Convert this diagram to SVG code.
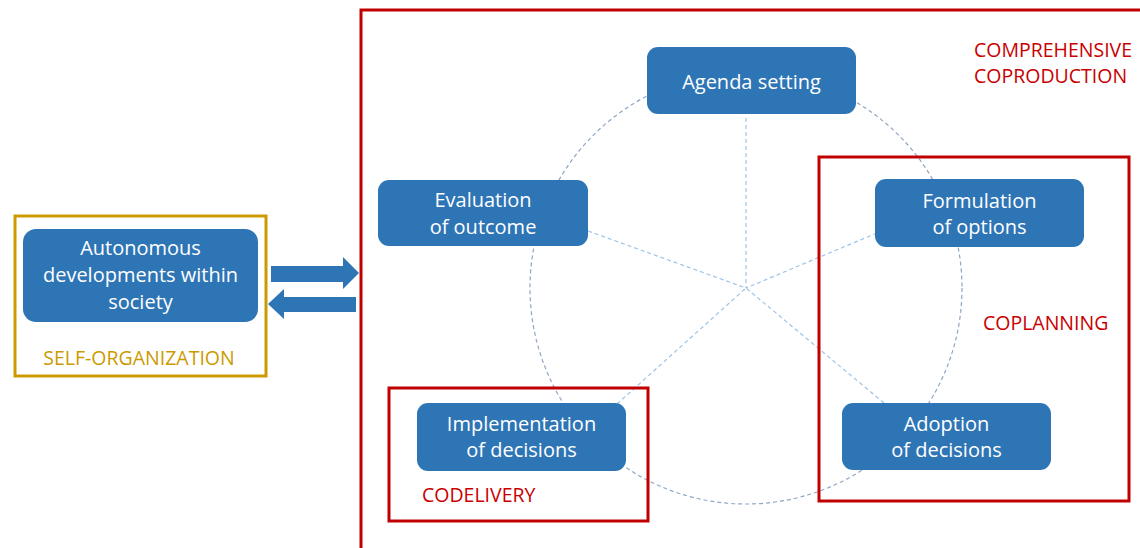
<svg xmlns="http://www.w3.org/2000/svg" width="1140" height="548" viewBox="0 0 1140 548">
  <style>
    .node { fill: #2E75B6; }
    .ntext { font-family: "Open Sans", "Liberation Sans", sans-serif; font-size: 20px; fill: #FFFFFF; text-anchor: middle; }
    .redbox { fill: none; stroke: #C00000; stroke-width: 3; }
    .redlabel { font-family: "Open Sans", "Liberation Sans", sans-serif; font-size: 19.5px; fill: #C80000; }
    .goldbox { fill: none; stroke: #CC9A00; stroke-width: 3; }
    .goldlabel { font-family: "Open Sans", "Liberation Sans", sans-serif; font-size: 19.5px; fill: #CC9A00; text-anchor: middle; }
    .spoke { fill: none; stroke: #9DC3E6; stroke-width: 1.2; stroke-dasharray: 4 3; }
    .ring { fill: none; stroke: #8EA6C4; stroke-width: 1.2; stroke-dasharray: 4 3; }
    .bigarrow { fill: #2E75B6; }
  </style>

  <rect width="1140" height="548" fill="#FFFFFF"/>

  <g id="connectors">
    <circle class="ring" cx="746" cy="288" r="216"/>
    <line class="spoke" x1="746" y1="118" x2="746" y2="288"/>
    <line class="spoke" x1="588" y1="231" x2="746" y2="288"/>
    <line class="spoke" x1="877" y1="233" x2="746" y2="288"/>
    <line class="spoke" x1="884" y1="403" x2="746" y2="288"/>
    <line class="spoke" x1="617" y1="404" x2="746" y2="288"/>
    <polygon class="bigarrow" points="271,266 343,266 343,257 359,273 343,289 343,282 271,282"/>
    <polygon class="bigarrow" points="356,297 284,297 284,289 268,304 284,319 284,312 356,312"/>
  </g>

  <g id="comprehensive-coproduction">
    <rect class="redbox" x="361" y="10" width="820" height="600"/>
    <text class="redlabel" x="974" y="57">COMPREHENSIVE</text>
    <text class="redlabel" x="974" y="83">COPRODUCTION</text>
  </g>

  <g id="self-organization">
    <rect class="goldbox" x="15" y="216" width="251" height="160"/>
    <text class="goldlabel" x="139" y="365">SELF-ORGANIZATION</text>
  </g>

  <g id="autonomous">
    <rect class="node" x="23" y="229" width="235" height="93" rx="13"/>
    <text class="ntext" x="140.5" y="255">Autonomous</text>
    <text class="ntext" x="140.5" y="282">developments within</text>
    <text class="ntext" x="140.5" y="309">society</text>
  </g>

  <g id="agenda-setting">
    <rect class="node" x="647" y="47" width="209" height="67" rx="11"/>
    <text class="ntext" x="751.5" y="89">Agenda setting</text>
  </g>

  <g id="evaluation">
    <rect class="node" x="378" y="180" width="210" height="66" rx="11"/>
    <text class="ntext" x="483" y="207">Evaluation</text>
    <text class="ntext" x="483" y="234">of outcome</text>
  </g>

  <g id="formulation">
    <rect class="node" x="875" y="179" width="209" height="68" rx="11"/>
    <text class="ntext" x="979.5" y="208">Formulation</text>
    <text class="ntext" x="979.5" y="234">of options</text>
  </g>

  <g id="adoption">
    <rect class="node" x="842" y="403" width="209" height="67" rx="11"/>
    <text class="ntext" x="946.5" y="431">Adoption</text>
    <text class="ntext" x="946.5" y="457">of decisions</text>
  </g>

  <g id="implementation">
    <rect class="node" x="417" y="403" width="209" height="68" rx="11"/>
    <text class="ntext" x="521.5" y="431">Implementation</text>
    <text class="ntext" x="521.5" y="457">of decisions</text>
  </g>

  <g id="coplanning">
    <rect class="redbox" x="819" y="157" width="310" height="344"/>
    <text class="redlabel" x="983" y="330">COPLANNING</text>
  </g>

  <g id="codelivery">
    <rect class="redbox" x="389" y="388" width="259" height="133"/>
    <text class="redlabel" x="422" y="502">CODELIVERY</text>
  </g>
</svg>
